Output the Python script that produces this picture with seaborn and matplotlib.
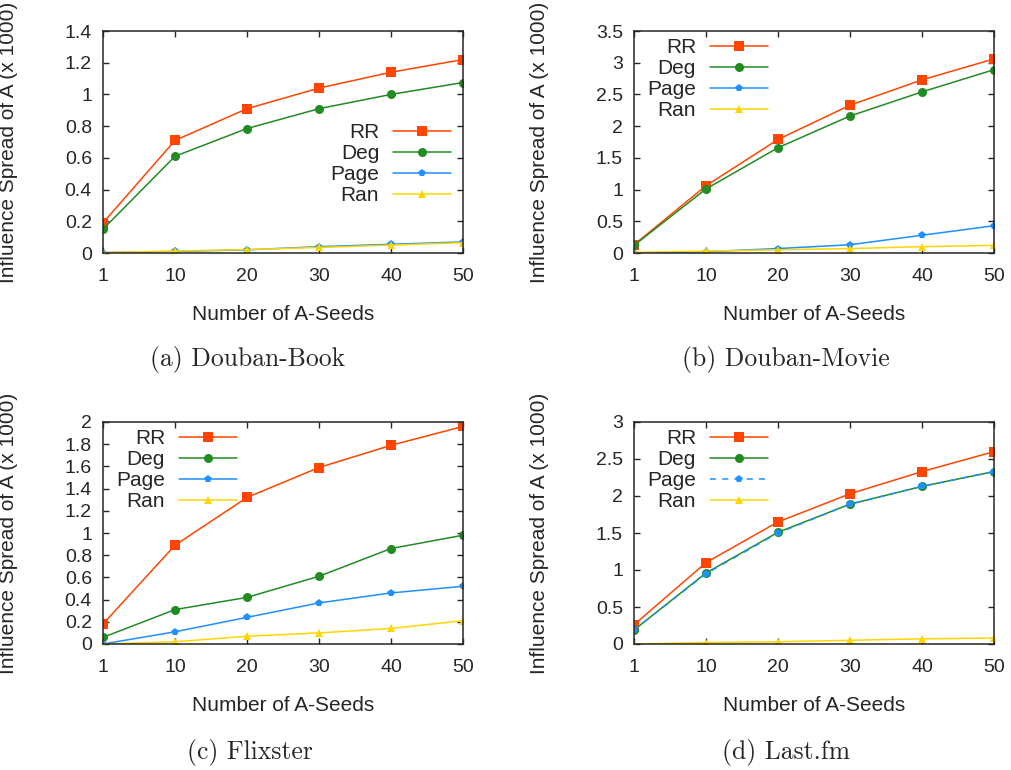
import numpy as np
import pandas as pd
import matplotlib
matplotlib.use("Agg")
import matplotlib.pyplot as plt
import seaborn as sns
from matplotlib.ticker import FuncFormatter, MultipleLocator

# seed counts on the x axis (evenly spaced categories)
seeds = ["1", "10", "20", "30", "40", "50"]

# (a) Douban-Book
book_rr = [0.19, 0.71, 0.91, 1.04, 1.14, 1.22]
book_deg = [0.15, 0.61, 0.785, 0.91, 1.00, 1.075]
book_page = [0.003, 0.01, 0.02, 0.04, 0.055, 0.07]
book_ran = [0.003, 0.012, 0.022, 0.035, 0.05, 0.065]

# (b) Douban-Movie
movie_rr = [0.13, 1.06, 1.79, 2.33, 2.73, 3.06]
movie_deg = [0.12, 1.01, 1.66, 2.16, 2.54, 2.89]
movie_page = [0.0, 0.02, 0.07, 0.13, 0.28, 0.43]
movie_ran = [0.01, 0.03, 0.05, 0.07, 0.10, 0.12]

# (c) Flixster
flix_rr = [0.18, 0.89, 1.32, 1.59, 1.79, 1.96]
flix_deg = [0.06, 0.31, 0.42, 0.61, 0.86, 0.98]
flix_page = [0.0, 0.11, 0.24, 0.37, 0.46, 0.52]
flix_ran = [0.0, 0.02, 0.07, 0.10, 0.14, 0.21]

# (d) Last.fm
lastfm_rr = [0.26, 1.10, 1.65, 2.03, 2.33, 2.60]
lastfm_deg = [0.19, 0.96, 1.51, 1.89, 2.13, 2.33]
lastfm_page = [0.19, 0.95, 1.50, 1.89, 2.13, 2.33]
lastfm_ran = [0.0, 0.02, 0.03, 0.05, 0.07, 0.08]

methods = ["RR", "Deg", "Page", "Ran"]
captions = ["(a) Douban-Book", "(b) Douban-Movie", "(c) Flixster", "(d) Last.fm"]
panels = [
    [book_rr, book_deg, book_page, book_ran],
    [movie_rr, movie_deg, movie_page, movie_ran],
    [flix_rr, flix_deg, flix_page, flix_ran],
    [lastfm_rr, lastfm_deg, lastfm_page, lastfm_ran],
]
ymax = [1.4, 3.5, 2.0, 3.0]
ystep = [0.2, 0.5, 0.2, 0.5]

colors = {"RR": "#ff4500", "Deg": "#228b22", "Page": "#1e90ff", "Ran": "#ffd700"}
markers = {"RR": "s", "Deg": "o", "Page": "p", "Ran": "^"}
msizes = {"RR": 7, "Deg": 6.5, "Page": 5.5, "Ran": 5.5}

sns.set_style("ticks")
plt.rcParams["font.family"] = ["Liberation Sans", "DejaVu Sans"]

fig = plt.figure(figsize=(10.12, 7.7), dpi=100)
W, H = 1012, 770
boxes = [(103, 31), (634, 31), (103, 422), (634, 422)]
leg_anchor = [(0.967, 0.586), (0.372, 0.968), (0.372, 0.968), (0.372, 0.968)]
cap_pos = [(248, 360), (786, 360), (250, 752), (786, 752)]

for i, series in enumerate(panels):
    left, top = boxes[i]
    ax = fig.add_axes([left / W, 1 - (top + 222) / H, 360 / W, 222 / H])
    df = pd.DataFrame({"seeds": seeds * 4,
                       "value": sum(series, []),
                       "method": np.repeat(methods, len(seeds))})
    for m in methods:
        # Last.fm draws the PageRank curve dashed, on top of Deg
        ls = (0, (4, 4)) if (i == 3 and m == "Page") else "-"
        sns.lineplot(data=df[df.method == m], x="seeds", y="value", ax=ax,
                     color=colors[m], marker=markers[m], markersize=msizes[m],
                     markeredgewidth=0, linewidth=1.1, linestyle=ls,
                     label=m, sort=False)
    ax.set_xlim(0, len(seeds) - 1)
    ax.set_ylim(0, ymax[i])
    ax.yaxis.set_major_locator(MultipleLocator(ystep[i]))
    ax.yaxis.set_major_formatter(FuncFormatter(lambda v, p: "%g" % round(v, 2)))
    ax.tick_params(direction="in", top=True, right=True, length=4, width=1,
                   labelsize=14)
    ax.tick_params(axis="y", pad=8)
    ax.tick_params(axis="x", pad=11)
    for s in ax.spines.values():
        s.set_linewidth(1.1)
    ax.set_xlabel("Number of A-Seeds", fontsize=15)
    ax.set_ylabel("Influence Spread of A (x 1000)", fontsize=15)
    ax.xaxis.set_label_coords(0.5, -0.235)
    ax.yaxis.set_label_coords(-0.236, 0.5)
    ax.legend(loc="upper right", bbox_to_anchor=leg_anchor[i], frameon=False,
              markerfirst=False, fontsize=15, handlelength=2.8,
              handletextpad=0.65, labelspacing=0.1, borderpad=0,
              borderaxespad=0)
    cx, cy = cap_pos[i]
    fig.text(cx / W, 1 - cy / H, captions[i], ha="center", va="center",
             fontsize=18.5, family=["cmr10", "DejaVu Serif"])

fig.savefig("out.png", dpi=100)
